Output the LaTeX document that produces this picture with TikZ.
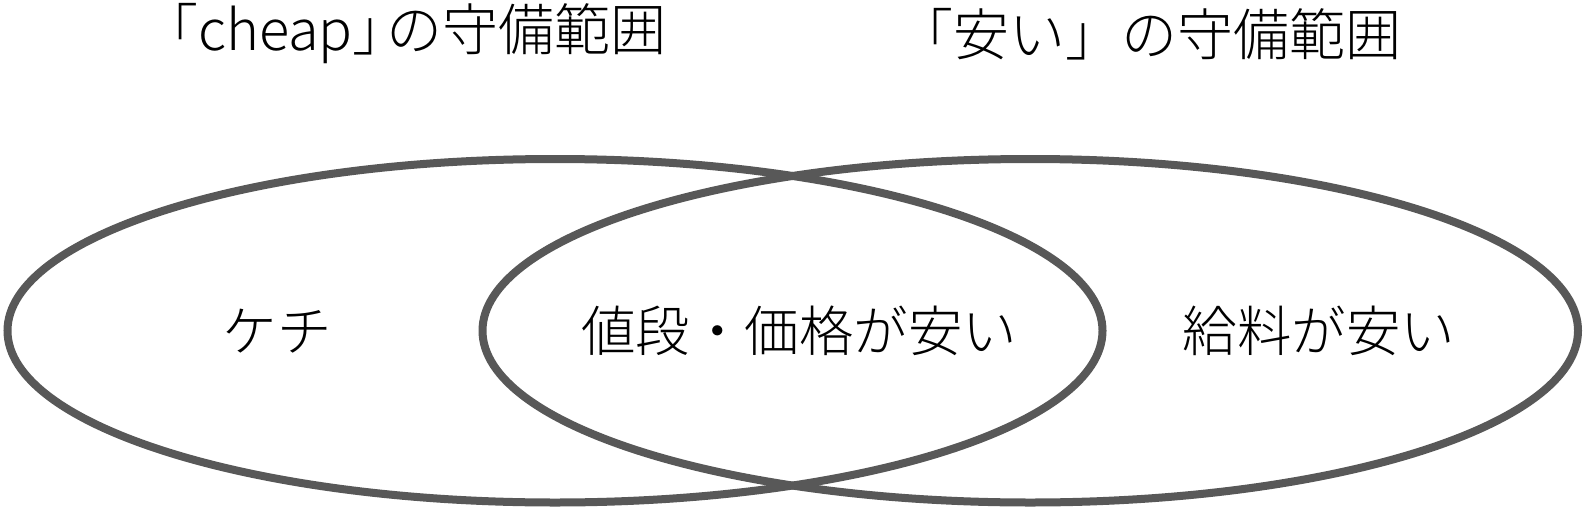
\documentclass[tikz,border=0pt]{standalone}
\usepackage{fontspec}
\setmainfont{Noto Sans CJK JP Light}
\usetikzlibrary{shapes.geometric}
\definecolor{ringgray}{RGB}{88,88,88}
\tikzset{
  ring/.style={draw=ringgray, line width=8pt, ellipse, inner sep=0pt, minimum width=1095pt, minimum height=343.5pt},
  lbl/.style={inner sep=0pt, font=\fontsize{54.5pt}{60pt}\selectfont, text=black},
  ttl/.style={inner sep=0pt, font=\fontsize{56pt}{60pt}\selectfont, text=black}
}
\begin{document}
\begin{tikzpicture}[x=1pt, y=-1pt]
\useasboundingbox (0,0) rectangle (1586,514);
\node[ring] (ellL) at (555,330.75) {};
\node[ring, minimum width=1095.5pt] (ellR) at (1030.25,330.75) {};
\node[lbl] (kechi) at (277,331) {ケチ};
\node[lbl] (nedan) at (799,331) {値段・価格が安い};
\node[lbl] (kyuryo) at (1319,331) {給料が安い};
\node[ttl, anchor=west] (t1) at (142,34) {「cheap」\kern-22pt の守備範囲};
\node[ttl] (t2) at (1149,34) {「安い」の守備範囲};
\end{tikzpicture}
\end{document}
